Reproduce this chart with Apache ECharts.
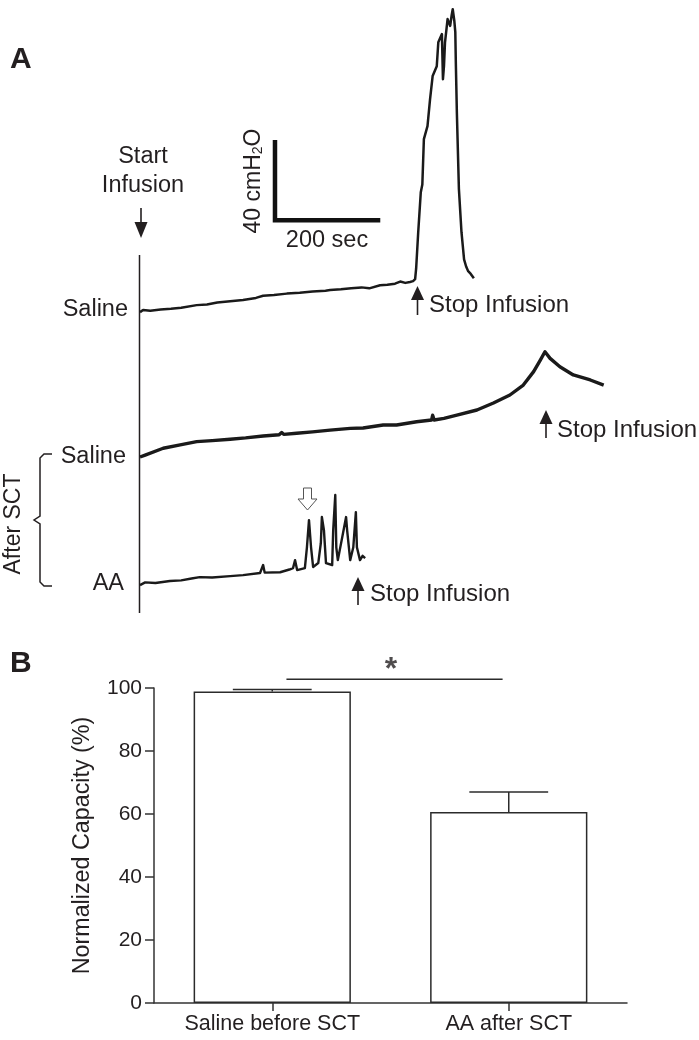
<!DOCTYPE html>
<html>
<head>
<meta charset="utf-8">
<script src="https://cdn.jsdelivr.net/npm/echarts@6/dist/echarts.min.js"></script>
<style>
html,body{margin:0;padding:0;background:#fff}
#chart{width:699px;height:1040px}
</style>
</head>
<body>
<div id="chart"></div>
<script>
// Panel A - cystometry traces, [time since start of infusion (s), pressure rise (cmH2O)]
const salineBefore = [[0,0],[6,1.1],[20,0.7],[40,1.4],[60,1.7],[80,2.2],[110,3.6],[130,3.9],[150,4.9],[175,5.6],[200,6.2],[225,7.3],[239,8.4],[260,8.8],[285,9.5],[310,9.9],[335,10.6],[360,11.0],[369,11.3],[390,11.7],[410,12.3],[430,12.7],[445,12.2],[466,13.8],[480,14.0],[495,14.6],[505,15.7],[515,15.0],[524,15.5],[530,15.9],[534,16.9],[536,22.4],[540,41.0],[545,61.5],[548,65.5],[551,88.7],[558,95.4],[563,109.2],[568,121.1],[576,126.1],[579,138.4],[586,142.6],[588,119.5],[590,126.2],[592,138.4],[597,150.3],[602,146.8],[605,152.4],[607,155.4],[610,149.6],[612,143.6],[613,128.1],[615,102.6],[619,63.1],[624,41.0],[629,27.1],[633,23.4],[637,21.0],[642,19.6],[648,17.4]];
const salineAfter = [[0,0],[10,1.0],[45,4.5],[78,6.2],[110,7.9],[140,8.4],[175,9.1],[205,9.8],[239,10.8],[270,11.4],[275,12.6],[279,11.6],[304,12.2],[335,12.9],[369,13.8],[408,14.7],[433,14.9],[472,16.4],[498,16.4],[537,18.1],[566,19.0],[568,21.4],[571,19.0],[590,19.8],[615,21.5],[654,24.1],[686,27.7],[718,31.8],[744,36.9],[764,43.8],[777,49.7],[786,54.0],[796,50.6],[815,46.3],[841,42.1],[874,39.5],[900,36.9]];
const aaAfter = [[0,0],[10,1.4],[30,1.1],[58,2.1],[80,2.4],[100,3.4],[116,4.1],[140,3.9],[175,4.6],[200,5.1],[233,6.2],[236,6.4],[239,10.3],[242,6.4],[272,6.6],[290,8.0],[297,8.7],[301,12.8],[305,7.7],[320,8.7],[324,19.4],[328,33.3],[332,19.4],[336,9.3],[346,11.3],[351,21.5],[353,34.9],[357,28.2],[361,11.3],[373,10.3],[375,28.2],[379,46.2],[381,19.4],[384,12.8],[394,26.6],[400,34.9],[402,28.2],[408,12.8],[414,19.4],[419,37.4],[421,19.4],[427,12.8],[432,15.0],[437,13.8]];
const traceBase = [157.9, 83.6, 17.9];   // vertical stacking of the three traces
const scaleBar = [[262,245],[262,205],[462,205]]; // 40 cmH2O / 200 sec

// Panel B - normalized capacity
const groups = ['Saline before SCT', 'AA after SCT'];
const capacity = [98.9, 60.6];
const capacitySem = [0.6, 6.4];
const yTicks = [0, 20, 40, 60, 80, 100];
const sigLine = [[0.06, 102.8], [0.974, 102.8]];

const F = '"Liberation Sans", Arial, sans-serif';
const C = '#231f20';

function lift(data, base) {
  return data.map(function (p) { return [p[0], p[1] + base]; });
}

function trace(data, base, w) {
  return {
    type: 'line', xAxisIndex: 0, yAxisIndex: 0,
    data: lift(data, base), symbol: 'none', silent: true,
    lineStyle: { color: '#1a1a1a', width: w, join: 'round' }
  };
}

function txt(x, y, s, size, align, extra) {
  return Object.assign({
    type: 'text', x: x, y: y,
    style: { text: s, fontSize: size, fontFamily: F, fill: C, align: align || 'left', verticalAlign: 'middle' }
  }, extra || {});
}

function upArrow(x, tip, bottom) {
  return [
    { type: 'line', shape: { x1: x, y1: tip + 10, x2: x, y2: bottom }, style: { stroke: C, lineWidth: 1.6 } },
    { type: 'polygon', shape: { points: [[x, tip], [x - 6.5, tip + 14], [x + 6.5, tip + 14]] }, style: { fill: C } }
  ];
}

const chart = echarts.init(document.getElementById('chart'), null, { renderer: 'canvas' });

const option = {
  animation: false,
  backgroundColor: '#fff',
  grid: [
    { left: 140, top: 0, width: 559, height: 620 },
    { left: 154, top: 688, width: 473, height: 315 }
  ],
  xAxis: [
    { type: 'value', gridIndex: 0, min: 0, max: 1085, show: false },
    {
      type: 'category', gridIndex: 1, data: groups,
      axisLine: { show: true, onZero: false, lineStyle: { color: '#333', width: 1.5 } },
      axisTick: { show: true, alignWithLabel: true, length: 8, lineStyle: { color: '#333', width: 1.5 } },
      axisLabel: { fontSize: 21.5, fontFamily: F, color: C, margin: 10 }
    },
    { type: 'value', gridIndex: 1, min: -0.5, max: 1.5, show: false }
  ],
  yAxis: [
    { type: 'value', gridIndex: 0, min: 0, max: 318, show: false },
    {
      type: 'value', gridIndex: 1, min: yTicks[0], max: yTicks[yTicks.length - 1], interval: 20,
      name: 'Normalized Capacity (%)', nameLocation: 'middle', nameGap: 60,
      nameTextStyle: { fontSize: 23.3, fontFamily: F, color: C },
      axisLine: { show: true, onZero: false, lineStyle: { color: '#333', width: 1.5 } },
      axisTick: { show: true, length: 9, lineStyle: { color: '#333', width: 1.5 } },
      axisLabel: { fontSize: 21, fontFamily: F, color: C, margin: 12 },
      splitLine: { show: false }
    }
  ],
  series: [
    trace(salineBefore, traceBase[0], 2.5),
    trace(salineAfter, traceBase[1], 3.4),
    trace(aaAfter, traceBase[2], 2.4),
    {
      type: 'line', xAxisIndex: 0, yAxisIndex: 0, data: scaleBar, symbol: 'none', silent: true,
      lineStyle: { color: '#111', width: 4.5, join: 'miter', cap: 'square' }
    },
    {
      type: 'bar', xAxisIndex: 1, yAxisIndex: 1, data: capacity, barWidth: '66.5%',
      itemStyle: { color: '#fff', borderColor: '#2b2b2b', borderWidth: 1.5 }
    },
    {
      type: 'custom', xAxisIndex: 1, yAxisIndex: 1, z: 5,
      data: groups.map(function (g, i) { return [i, capacity[i], capacitySem[i]]; }),
      encode: { x: 0, y: 1 },
      renderItem: function (params, api) {
        const i = api.value(0);
        const top = api.coord([i, api.value(1) + api.value(2)]);
        const bot = api.coord([i, api.value(1)]);
        const half = api.size([1, 0])[0] / 6;
        const st = { stroke: '#2b2b2b', lineWidth: 1.5 };
        return {
          type: 'group', children: [
            { type: 'line', shape: { x1: bot[0], y1: bot[1], x2: top[0], y2: top[1] }, style: st },
            { type: 'line', shape: { x1: top[0] - half, y1: top[1], x2: top[0] + half, y2: top[1] }, style: st }
          ]
        };
      }
    },
    {
      type: 'line', xAxisIndex: 2, yAxisIndex: 1, data: sigLine, symbol: 'none', clip: false, silent: true,
      lineStyle: { color: '#2b2b2b', width: 1.5 }
    },
    {
      type: 'scatter', xAxisIndex: 2, yAxisIndex: 1, data: [[0.502, 105.6]], symbolSize: 0, clip: false,
      label: { show: true, position: 'inside', formatter: '*', fontSize: 32, fontWeight: 'bold', fontFamily: F, color: C }
    }
  ],
  graphic: [
    txt(10, 60, 'A', 30, 'left', { style: { text: 'A', fontSize: 30, fontWeight: 'bold', fontFamily: F, fill: C, verticalAlign: 'middle' } }),
    txt(10, 664, 'B', 30, 'left', { style: { text: 'B', fontSize: 30, fontWeight: 'bold', fontFamily: F, fill: C, verticalAlign: 'middle' } }),
    txt(143, 157, 'Start', 23.5, 'center'),
    txt(143, 186, 'Infusion', 23.5, 'center'),
    { type: 'line', shape: { x1: 141, y1: 208, x2: 141, y2: 226 }, style: { stroke: C, lineWidth: 1.6 } },
    { type: 'polygon', shape: { points: [[134.5, 222], [147.5, 222], [141, 238]] }, style: { fill: C } },
    { type: 'line', shape: { x1: 139.5, y1: 255, x2: 139.5, y2: 613 }, style: { stroke: C, lineWidth: 1.5 } },
    {
      type: 'text', x: 254, y: 181, rotation: Math.PI / 2,
      style: {
        text: '{a|40 cmH}{s|2}{a|O}', align: 'center', verticalAlign: 'middle',
        rich: {
          a: { fontSize: 23, fontFamily: F, fill: C, verticalAlign: 'bottom' },
          s: { fontSize: 14, fontFamily: F, fill: C, verticalAlign: 'bottom' }
        }
      }
    },
    txt(327, 241, '200 sec', 23.5, 'center'),
    txt(128, 310, 'Saline', 23.5, 'right'),
    txt(126, 457, 'Saline', 23.5, 'right'),
    txt(124, 584, 'AA', 23.5, 'right'),
    txt(14, 524, 'After SCT', 23, 'center', { rotation: Math.PI / 2 }),
    { type: 'polyline', shape: { points: [[52, 454], [44, 454], [40, 458], [40, 516], [34, 520], [40, 524], [40, 582], [44, 586], [52, 586]] }, style: { stroke: C, lineWidth: 1.5, fill: null } }
  ]
    .concat(upArrow(417.5, 286, 315)).concat([txt(429, 305, 'Stop Infusion', 24, 'left')])
    .concat(upArrow(546, 410, 438)).concat([txt(557, 430, 'Stop Infusion', 24, 'left')])
    .concat(upArrow(358, 577, 605)).concat([txt(370, 594, 'Stop Infusion', 24, 'left')])
    .concat([{
      type: 'polygon',
      shape: { points: [[303.5, 488], [311.5, 488], [311.5, 499], [317, 499], [307.5, 510], [298, 499], [303.5, 499]] },
      style: { fill: '#fff', stroke: '#555', lineWidth: 1 }
    }])
};

chart.setOption(option);
</script>
</body>
</html>
